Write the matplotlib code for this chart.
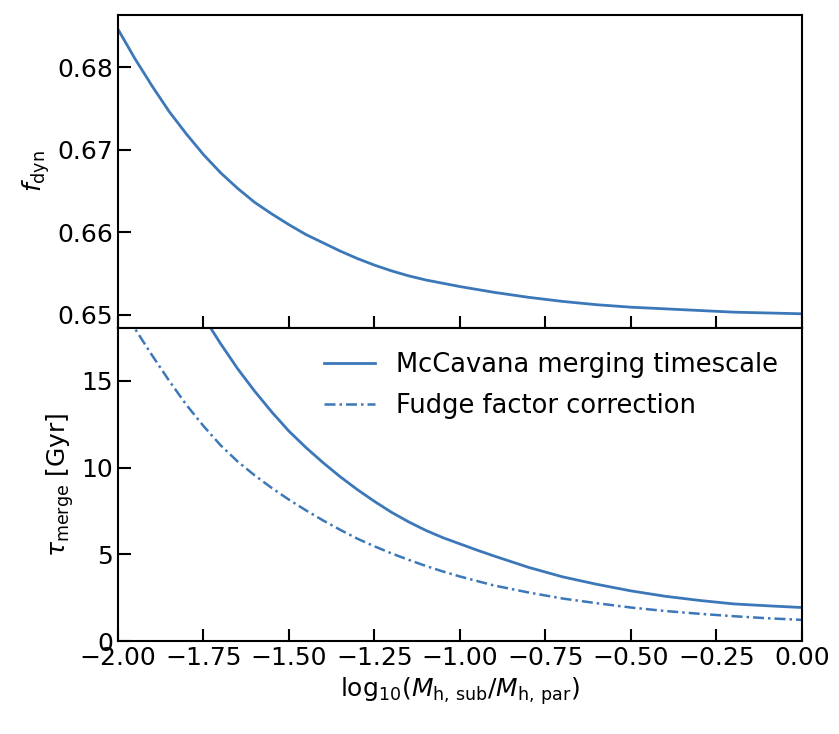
import numpy as np
import matplotlib
matplotlib.use("Agg")
import matplotlib.pyplot as plt

# log10 of sub-halo to parent-halo mass ratio
logm_top = [-2.0, -1.95, -1.9, -1.85, -1.8, -1.75, -1.7, -1.65, -1.6, -1.55,
            -1.5, -1.45, -1.4, -1.35, -1.3, -1.25, -1.2, -1.15, -1.1, -1.05,
            -1.0, -0.9, -0.8, -0.7, -0.6, -0.5, -0.4, -0.3, -0.2, -0.1, 0.0]
f_dyn = [0.6846, 0.6810, 0.6777, 0.6746, 0.6719, 0.6694, 0.6672, 0.6653,
         0.6636, 0.6622, 0.6609, 0.6597, 0.6587, 0.6577, 0.6568, 0.6560,
         0.6553, 0.6547, 0.6542, 0.6538, 0.6534, 0.6527, 0.6521, 0.6516,
         0.6512, 0.6509, 0.6507, 0.6505, 0.6503, 0.6502, 0.6501]

# merging timescales [Gyr]
logm_mcc = [-1.75, -1.7, -1.65, -1.6, -1.55, -1.5, -1.45, -1.4, -1.35, -1.3,
            -1.25, -1.2, -1.15, -1.1, -1.05, -1.0, -0.95, -0.9, -0.8, -0.7,
            -0.6, -0.5, -0.4, -0.3, -0.2, -0.1, 0.0]
tau_mcc = [18.7, 17.15, 15.7, 14.4, 13.2, 12.1, 11.15, 10.28, 9.47, 8.73,
           8.05, 7.42, 6.87, 6.38, 5.96, 5.6, 5.24, 4.9, 4.25, 3.7,
           3.27, 2.89, 2.58, 2.34, 2.14, 2.03, 1.93]

logm_fudge = [-2.0, -1.95, -1.9, -1.85, -1.8, -1.75, -1.7, -1.65, -1.6, -1.55,
              -1.5, -1.45, -1.4, -1.35, -1.3, -1.25, -1.2, -1.15, -1.1, -1.05,
              -1.0, -0.9, -0.8, -0.7, -0.6, -0.5, -0.4, -0.3, -0.2, -0.1, 0.0]
tau_fudge = [19.8, 18.0, 16.47, 15.0, 13.62, 12.4, 11.29, 10.35, 9.55, 8.82,
             8.15, 7.53, 6.95, 6.41, 5.9, 5.46, 5.05, 4.68, 4.33, 4.01,
             3.72, 3.2, 2.8, 2.45, 2.18, 1.93, 1.73, 1.57, 1.43, 1.31, 1.22]

col = '#3c78b9'
fs = 18

fig = plt.figure(figsize=(8.39, 7.34), dpi=100)
ax1 = fig.add_axes([0.1406, 0.5531, 0.8153, 0.4265])
ax2 = fig.add_axes([0.1406, 0.1267, 0.8153, 0.4264], sharex=ax1)

ax1.plot(logm_top, f_dyn, color=col, lw=2)
ax1.set_ylabel(r'$f_{\rm dyn}$', fontsize=fs)
ax1.set_yticks([0.65, 0.66, 0.67, 0.68])
ax1.tick_params(labelbottom=False)

ax2.plot(logm_mcc, tau_mcc, color=col, lw=2, label='McCavana merging timescale')
ax2.plot(logm_fudge, tau_fudge, color=col, lw=1.8,
         linestyle=(0, (4.4, 1.6, 1.0, 1.6)), label='Fudge factor correction')
ax2.set_ylim(0, 18.05)
ax2.set_xlim(-2.0, 0.0)
ax2.set_yticks([0, 5, 10, 15])
ax2.set_xticks(np.arange(-2.0, 0.01, 0.25))
ax2.set_ylabel(r'$\tau_{\rm merge}$ [Gyr]', fontsize=fs)
ax2.set_xlabel(r'$\mathrm{log}_{10}(M_{\mathrm{h,\,sub}}/M_{\mathrm{h,\,par}})$', fontsize=fs)
ax2.legend(loc='upper right', frameon=False, fontsize=18.5, borderaxespad=0.55,
           handlelength=2.0, labelspacing=0.55)

for ax in (ax1, ax2):
    ax.tick_params(direction='in', length=9, width=1.5, labelsize=fs,
                   top=False, right=False)
    for s in ax.spines.values():
        s.set_linewidth(1.5)

fig.align_ylabels([ax1, ax2])

fig.savefig('out.png', dpi=100)
